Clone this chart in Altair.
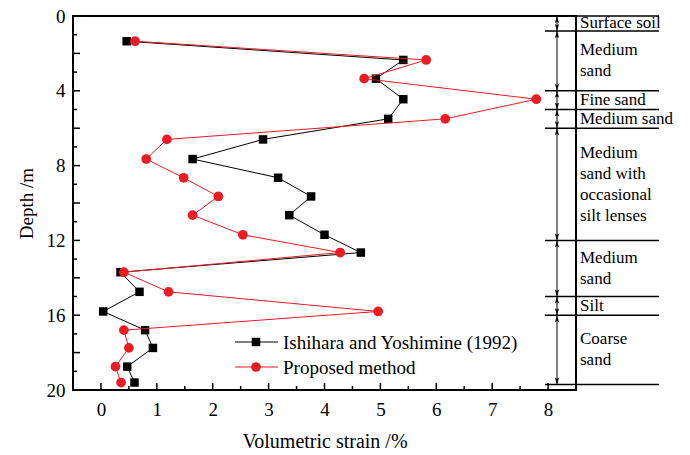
import altair as alt
import pandas as pd

# ---- data ----
depth = [1.35, 2.35, 3.35, 4.45, 5.5, 6.6, 7.65, 8.65, 9.65, 10.65, 11.7, 12.65,
         13.7, 14.75, 15.8, 16.8, 17.75, 18.75, 19.6]
ishihara = [0.46, 5.41, 4.92, 5.41, 5.14, 2.90, 1.64, 3.17, 3.76, 3.37, 4.00, 4.65,
            0.35, 0.69, 0.04, 0.79, 0.93, 0.47, 0.60]
proposed = [0.61, 5.82, 4.71, 7.79, 6.16, 1.18, 0.81, 1.48, 2.10, 1.64, 2.54, 4.28,
            0.41, 1.21, 4.96, 0.41, 0.50, 0.26, 0.36]

series_names = ["Ishihara and Yoshimine (1992)", "Proposed method"]
series_colors = ["#000000", "#ec1c24"]
series_shapes = ["square", "circle"]

x_major = [0, 1, 2, 3, 4, 5, 6, 7, 8]
x_minor = [0.5, 1.5, 2.5, 3.5, 4.5, 5.5, 6.5, 7.5]
y_major = [0, 2, 4, 6, 8, 10, 12, 14, 16, 18, 20]
y_minor = [1, 3, 5, 7, 9, 11, 13, 15, 17, 19]

boundaries = [0, 0.8, 4, 5, 6, 12, 15, 16, 19.7]
layer_labels = ["Surface soil", "Medium\n\u00a0sand", "Fine sand", "Medium sand",
                "Medium\n\u00a0sand with\noccasional\nsilt lenses", "Medium\nsand",
                "Silt", "Coarse\nsand"]

FONT = "Liberation Serif"
W, H = 503, 374
LH = 21  # line height of the layer labels

xs = alt.Scale(domain=[-0.5, 8.5], nice=False, zero=False)
ys = alt.Scale(domain=[0, 20], nice=False, zero=False, reverse=True)

df = pd.DataFrame({
    "depth": depth * 2,
    "strain": ishihara + proposed,
    "series": [series_names[0]] * len(depth) + [series_names[1]] * len(depth),
})

layers = []

# ---- axes (labels/titles only) ----
axdf = pd.DataFrame({"strain": [0], "depth": [0]})
layers.append(alt.Chart(axdf).mark_point(opacity=0).encode(
    x=alt.X("strain:Q", scale=xs, axis=alt.Axis(
        values=x_major, format="d", ticks=False, domain=False, grid=False,
        title="Volumetric strain /%", labelPadding=10, titlePadding=12,
        labelFontSize=19, titleFontSize=20)),
    y=alt.Y("depth:Q", scale=ys, axis=alt.Axis(
        values=y_major, format="d", ticks=False, domain=False, grid=False,
        title="Depth /m", labelPadding=8, titlePadding=10,
        labelFontSize=19, titleFontSize=19)),
))

# ---- ticks (inward) ----
tick_specs = [
    (x_major, "x", 7), (x_minor, "x", 4), (y_major, "y", 7), (y_minor, "y", 4)
]
for vals, axis, length in tick_specs:
    if axis == "x":
        t = pd.DataFrame({"strain": vals})
        enc = dict(x=alt.X("strain:Q", scale=xs),
                   y=alt.value(H), y2=alt.value(H - length))
    else:
        t = pd.DataFrame({"depth": vals})
        enc = dict(y=alt.Y("depth:Q", scale=ys),
                   x=alt.value(0), x2=alt.value(length))
    layers.append(alt.Chart(t).mark_rule(color="black", strokeWidth=1.5).encode(**enc))

# ---- soil layer annotation (pixel columns to the right of the plot) ----
LINE_X0, LINE_X1, ARROW_X, LABEL_X = 472, 586, 484, 507
bdf = pd.DataFrame({"depth": boundaries})
layers.append(alt.Chart(bdf).mark_rule(color="black", strokeWidth=1.5, clip=False).encode(
    y=alt.Y("depth:Q", scale=ys),
    x=alt.value(LINE_X0), x2=alt.value(LINE_X1)))

idf = pd.DataFrame({"depth": boundaries[:-1], "bot": boundaries[1:]})
layers.append(alt.Chart(idf).mark_rule(color="black", strokeWidth=1, clip=False).encode(
    y=alt.Y("depth:Q", scale=ys), y2="bot:Q",
    x=alt.value(ARROW_X)))
up = "M0,-1L0.6,1L0,0.55L-0.6,1Z"
down = "M0,1L0.6,-1L0,-0.55L-0.6,-1Z"
layers.append(alt.Chart(idf).mark_point(shape=up, filled=True, color="black", size=49,
                                        opacity=1, yOffset=3.5, clip=False).encode(
    y=alt.Y("depth:Q", scale=ys), x=alt.value(ARROW_X)))
idf2 = pd.DataFrame({"depth": boundaries[1:]})
layers.append(alt.Chart(idf2).mark_point(shape=down, filled=True, color="black", size=49,
                                         opacity=1, yOffset=-3.5, clip=False).encode(
    y=alt.Y("depth:Q", scale=ys), x=alt.value(ARROW_X)))

mids = [(a + b) / 2 for a, b in zip(boundaries[:-1], boundaries[1:])]
ldf = pd.DataFrame({"depth": mids, "label": layer_labels})
ldf["n"] = ldf["label"].str.count("\n") + 1
for n in sorted(ldf["n"].unique()):
    sub = ldf[ldf["n"] == n][["depth", "label"]]
    layers.append(alt.Chart(sub).mark_text(
        align="left", baseline="middle", font=FONT, fontSize=17, lineBreak="\n",
        lineHeight=LH, color="black", clip=False, dy=-(int(n) - 1) * LH / 2).encode(
        y=alt.Y("depth:Q", scale=ys), x=alt.value(LABEL_X), text="label:N"))

# ---- data series ----
for name, col, shp, size in zip(series_names, series_colors, series_shapes, [72, 95]):
    sub = df[df["series"] == name][["depth", "strain"]]
    base = alt.Chart(sub)
    layers.append(base.mark_line(color=col, strokeWidth=1).encode(
        x=alt.X("strain:Q", scale=xs),
        y=alt.Y("depth:Q", scale=ys),
        order="depth:Q"))
    layers.append(base.mark_point(shape=shp, filled=True, color=col, size=size,
                                  opacity=1).encode(
        x=alt.X("strain:Q", scale=xs),
        y=alt.Y("depth:Q", scale=ys)))

# ---- legend (drawn by hand) ----
leg_y = [326, 351]
for name, col, shp, size, yy in zip(series_names, series_colors, series_shapes, [72, 95], leg_y):
    ld = pd.DataFrame({"label": [name]})
    lb = alt.Chart(ld)
    layers.append(lb.mark_rule(color=col, strokeWidth=1).encode(
        x=alt.value(162), x2=alt.value(205), y=alt.value(yy)))
    layers.append(lb.mark_point(shape=shp, filled=True, color=col, size=size, opacity=1).encode(
        x=alt.value(183), y=alt.value(yy)))
    layers.append(lb.mark_text(align="left", baseline="middle", font=FONT, fontSize=19,
                               color="black").encode(
        x=alt.value(210), y=alt.value(yy + 1), text="label:N"))

chart = alt.layer(*layers).properties(
    width=W, height=H,
    background="white",
    autosize=alt.AutoSizeParams(type="none"),
    padding={"left": 73, "top": 16, "right": 114, "bottom": 65},
).configure_view(stroke="black", strokeWidth=2).configure_axis(
    labelFont=FONT, titleFont=FONT, labelColor="black", titleColor="black",
    titleFontWeight="normal"
)

chart.save("out.html", embed_options={"renderer": "svg", "actions": False})
